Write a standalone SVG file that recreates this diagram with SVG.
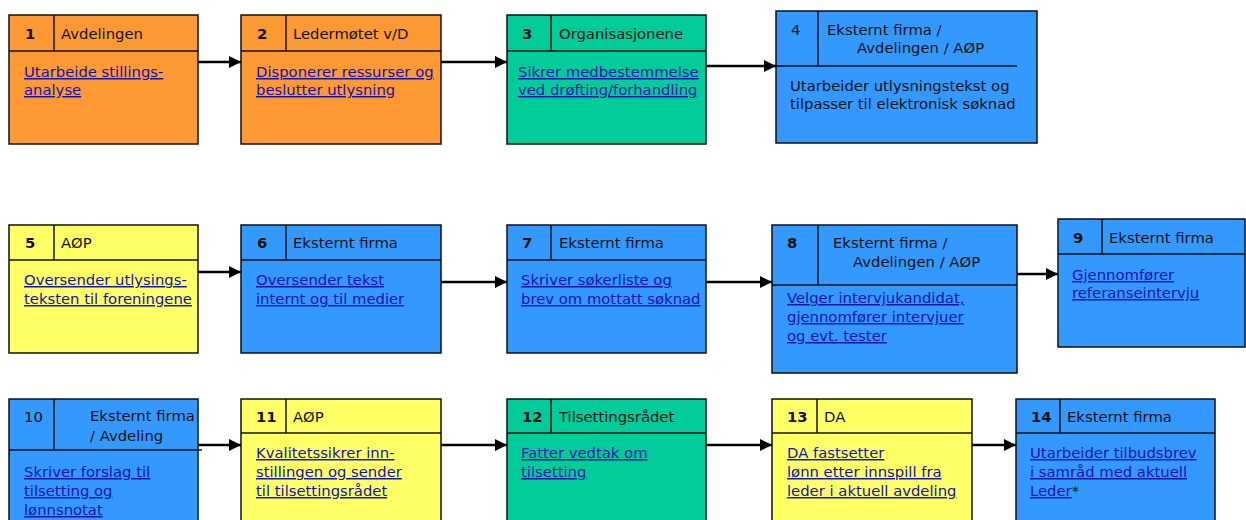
<svg xmlns="http://www.w3.org/2000/svg" width="1246" height="520" viewBox="0 0 1246 520">
<defs>
<style>
.box{stroke:#111;stroke-width:1.5}
.or{fill:#FF9933}.gr{fill:#00CC99}.bl{fill:#3399FF}.ye{fill:#FFFF66}
.ln{stroke:#111;stroke-width:1.5;fill:none}
text{font-family:"DejaVu Sans",Verdana,sans-serif;font-size:14.8px;fill:#111}
.num{font-weight:bold}
.lk{fill:#1414A8;text-decoration:underline}
.pl{fill:#111}
.con{stroke:#000;stroke-width:2.5;fill:none}
</style>
<marker id="ah" markerUnits="userSpaceOnUse" markerWidth="12" markerHeight="12" refX="12" refY="6" orient="auto">
<path d="M0,0 L12,6 L0,12 Z" fill="#000"/>
</marker>
</defs>
<rect width="1246" height="520" fill="#fff"/>

<g id="connectors">
<line class="con" x1="198" y1="62" x2="241" y2="62" marker-end="url(#ah)"/>
<line class="con" x1="441" y1="62" x2="507" y2="62" marker-end="url(#ah)"/>
<line class="con" x1="706" y1="66" x2="776" y2="66" marker-end="url(#ah)"/>
<line class="con" x1="198" y1="272" x2="241" y2="272" marker-end="url(#ah)"/>
<line class="con" x1="441" y1="282" x2="507" y2="282" marker-end="url(#ah)"/>
<line class="con" x1="706" y1="282" x2="772" y2="282" marker-end="url(#ah)"/>
<line class="con" x1="1017" y1="274" x2="1058" y2="274" marker-end="url(#ah)"/>
<line class="con" x1="196" y1="445" x2="241" y2="445" marker-end="url(#ah)"/>
<line class="con" x1="441" y1="445" x2="507" y2="445" marker-end="url(#ah)"/>
<line class="con" x1="706" y1="445" x2="772" y2="445" marker-end="url(#ah)"/>
<line class="con" x1="972" y1="445" x2="1016" y2="445" marker-end="url(#ah)"/>
</g>

<g id="node1">
<rect class="box or" x="9" y="15" width="189" height="129"/>
<line class="ln" x1="9" y1="51" x2="198" y2="51"/><line class="ln" x1="54" y1="15" x2="54" y2="51"/>
<text class="num" x="25" y="39">1</text><text x="61" y="39">Avdelingen</text>
<text class="lk" x="24" y="77">Utarbeide stillings-</text>
<text class="lk" x="24" y="95">analyse</text>
</g>

<g id="node2">
<rect class="box or" x="241" y="15" width="200" height="129"/>
<line class="ln" x1="241" y1="51" x2="441" y2="51"/><line class="ln" x1="286" y1="15" x2="286" y2="51"/>
<text class="num" x="257" y="39">2</text><text x="293" y="39">Ledermøtet v/D</text>
<text class="lk" x="256" y="77">Disponerer ressurser og</text>
<text class="lk" x="256" y="95">beslutter utlysning</text>
</g>

<g id="node3">
<rect class="box gr" x="507" y="15" width="199" height="129"/>
<line class="ln" x1="507" y1="51" x2="706" y2="51"/><line class="ln" x1="551" y1="15" x2="551" y2="51"/>
<text class="num" x="522" y="39">3</text><text x="559" y="39">Organisasjonene</text>
<text class="lk" x="518" y="77">Sikrer medbestemmelse</text>
<text class="lk" x="518" y="95">ved drøfting/forhandling</text>
</g>

<g id="node4">
<rect class="box bl" x="776" y="11" width="261" height="132"/>
<line class="ln" x1="776" y1="66" x2="1017" y2="66"/><line class="ln" x1="818" y1="11" x2="818" y2="66"/>
<text x="791" y="35">4</text>
<text x="827" y="35">Eksternt firma /</text>
<text x="857" y="53">Avdelingen / AØP</text>
<text class="pl" x="790" y="91">Utarbeider utlysningstekst og</text>
<text class="pl" x="790" y="109">tilpasser til elektronisk søknad</text>
</g>

<g id="node5">
<rect class="box ye" x="9" y="225" width="189" height="128"/>
<line class="ln" x1="9" y1="260" x2="198" y2="260"/><line class="ln" x1="54" y1="225" x2="54" y2="260"/>
<text class="num" x="25" y="248">5</text><text x="61" y="248">AØP</text>
<text class="lk" x="24" y="285">Oversender utlysings-</text>
<text class="lk" x="24" y="304">teksten til foreningene</text>
</g>

<g id="node6">
<rect class="box bl" x="241" y="225" width="200" height="128"/>
<line class="ln" x1="241" y1="260" x2="441" y2="260"/><line class="ln" x1="286" y1="225" x2="286" y2="260"/>
<text class="num" x="257" y="248">6</text><text x="293" y="248">Eksternt firma</text>
<text class="lk" x="256" y="285">Oversender tekst</text>
<text class="lk" x="256" y="304">internt og til medier</text>
</g>

<g id="node7">
<rect class="box bl" x="507" y="225" width="199" height="128"/>
<line class="ln" x1="507" y1="260" x2="706" y2="260"/><line class="ln" x1="551" y1="225" x2="551" y2="260"/>
<text class="num" x="522" y="248">7</text><text x="559" y="248">Eksternt firma</text>
<text class="lk" x="521" y="285">Skriver søkerliste og</text>
<text class="lk" x="521" y="304">brev om mottatt søknad</text>
</g>

<g id="node8">
<rect class="box bl" x="772" y="225" width="245" height="148"/>
<line class="ln" x1="772" y1="285" x2="1017" y2="285"/><line class="ln" x1="818" y1="225" x2="818" y2="285"/>
<text class="num" x="787" y="248">8</text>
<text x="833" y="248">Eksternt firma /</text>
<text x="853" y="267">Avdelingen / AØP</text>
<text class="lk" x="787" y="303">Velger intervjukandidat,</text>
<text class="lk" x="787" y="322">gjennomfører intervjuer</text>
<text class="lk" x="787" y="341">og evt. tester</text>
</g>

<g id="node9">
<rect class="box bl" x="1058" y="219" width="187" height="128"/>
<line class="ln" x1="1058" y1="254" x2="1245" y2="254"/><line class="ln" x1="1102" y1="219" x2="1102" y2="254"/>
<text class="num" x="1073" y="243">9</text><text x="1109" y="243">Eksternt firma</text>
<text class="lk" x="1072" y="280">Gjennomfører</text>
<text class="lk" x="1072" y="298">referanseintervju</text>
</g>

<g id="node10">
<rect class="box bl" x="9" y="399" width="189" height="135"/>
<line class="ln" x1="9" y1="450" x2="202" y2="450"/><line class="ln" x1="54" y1="399" x2="54" y2="450"/>
<text x="24" y="422">10</text>
<text x="90" y="421">Eksternt firma</text>
<text x="90" y="441">/ Avdeling</text>
<text class="lk" x="24" y="477">Skriver forslag til</text>
<text class="lk" x="24" y="496">tilsetting og</text>
<text class="lk" x="24" y="515">lønnsnotat</text>
</g>

<g id="node11">
<rect class="box ye" x="241" y="399" width="200" height="135"/>
<line class="ln" x1="241" y1="433" x2="441" y2="433"/><line class="ln" x1="286" y1="399" x2="286" y2="433"/>
<text class="num" x="256" y="422">11</text><text x="293" y="422">AØP</text>
<text class="lk" x="256" y="458">Kvalitetssikrer inn-</text>
<text class="lk" x="256" y="477">stillingen og sender</text>
<text class="lk" x="256" y="496">til tilsettingsrådet</text>
</g>

<g id="node12">
<rect class="box gr" x="507" y="399" width="199" height="135"/>
<line class="ln" x1="507" y1="433" x2="706" y2="433"/><line class="ln" x1="551" y1="399" x2="551" y2="433"/>
<text class="num" x="522" y="422">12</text><text x="559" y="422">Tilsettingsrådet</text>
<text class="lk" x="521" y="458">Fatter vedtak om</text>
<text class="lk" x="521" y="477">tilsetting</text>
</g>

<g id="node13">
<rect class="box ye" x="772" y="399" width="200" height="135"/>
<line class="ln" x1="772" y1="433" x2="972" y2="433"/><line class="ln" x1="817" y1="399" x2="817" y2="433"/>
<text class="num" x="787" y="422">13</text><text x="824" y="422">DA</text>
<text class="lk" x="787" y="458">DA fastsetter</text>
<text class="lk" x="787" y="477">lønn etter innspill fra</text>
<text class="lk" x="787" y="496">leder i aktuell avdeling</text>
</g>

<g id="node14">
<rect class="box bl" x="1016" y="399" width="199" height="135"/>
<line class="ln" x1="1016" y1="433" x2="1215" y2="433"/><line class="ln" x1="1060" y1="399" x2="1060" y2="433"/>
<text class="num" x="1031" y="422">14</text><text x="1067" y="422">Eksternt firma</text>
<text class="lk" x="1030" y="458">Utarbeider tilbudsbrev</text>
<text class="lk" x="1030" y="477">i samråd med aktuell</text>
<text x="1030" y="496"><tspan style="fill:#1414A8;text-decoration:underline">Leder</tspan>*</text>
</g>
</svg>
